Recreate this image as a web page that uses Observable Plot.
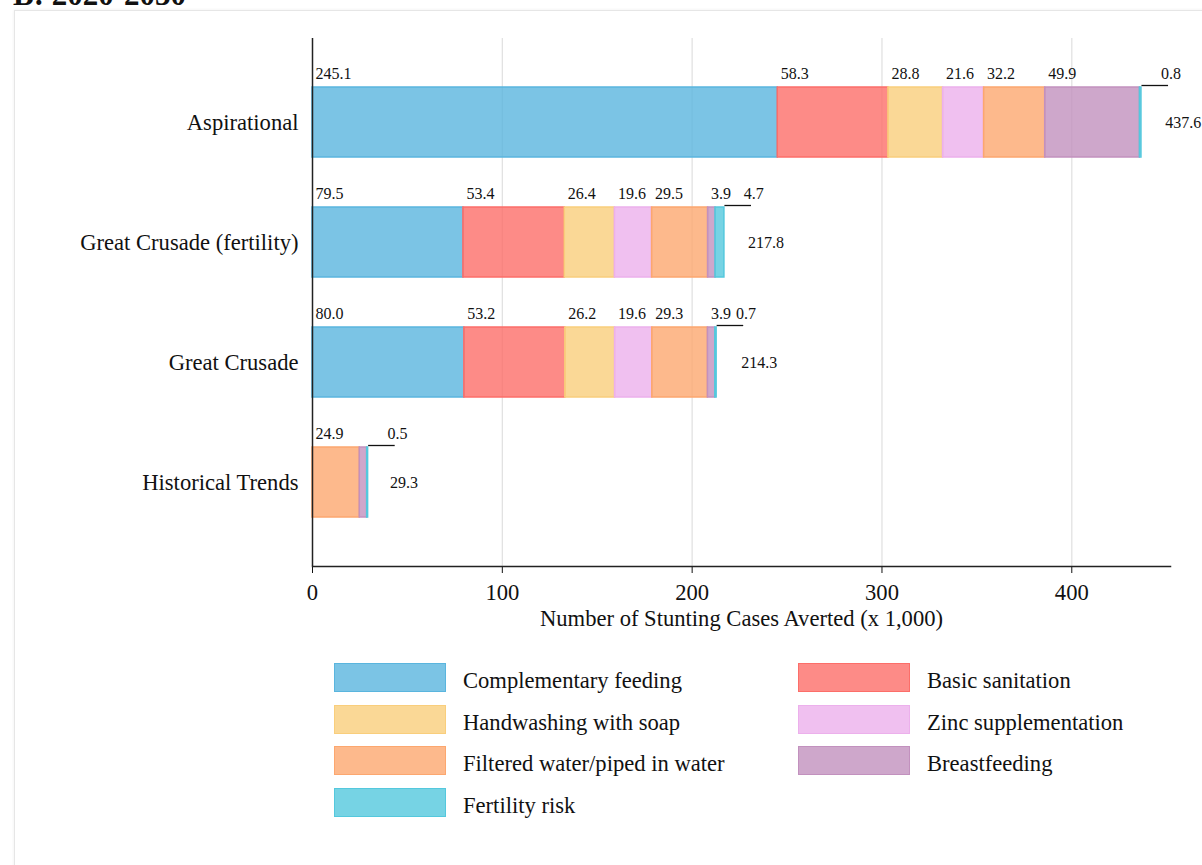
<!DOCTYPE html>
<html>
<head>
<meta charset="utf-8">
<script src="https://cdn.jsdelivr.net/npm/d3@7"></script>
<script src="https://cdn.jsdelivr.net/npm/@observablehq/plot@0.6"></script>
<style>
  html, body { margin: 0; padding: 0; background: #fff; }
  body { width: 1202px; height: 865px; position: relative; overflow: hidden; font-family: "Liberation Serif", "Times New Roman", serif; color: #111; }
  #title { position: absolute; left: 13px; top: -21px; font-size: 31px; font-weight: bold; line-height: 1; white-space: nowrap; }
  #panel { position: absolute; left: 14px; top: 10px; width: 1200px; height: 870px; border: 1px solid #e6e6e6; box-shadow: 0 0 3px #eee; }
  #chart { position: absolute; left: 0; top: 0; }
  #legend { position: absolute; left: 334px; top: 663px; display: grid; grid-template-columns: 464px 300px; grid-auto-rows: 41.7px; }
  .item { display: flex; align-items: flex-start; }
  .sw { width: 110px; height: 27px; border: 1.5px solid; flex: none; }
  .lab { margin-left: 17px; font-size: 22.6px; line-height: 30px; padding-top: 3px; white-space: nowrap; }
</style>
</head>
<body>
<div id="panel"></div>
<div id="title">B: 2020-2030</div>
<div id="chart"></div>
<div id="legend"></div>
<script>
const scenarios = ["Aspirational", "Great Crusade (fertility)", "Great Crusade", "Historical Trends"];
const interventions = ["Complementary feeding", "Basic sanitation", "Handwashing with soap", "Zinc supplementation", "Filtered water/piped in water", "Breastfeeding", "Fertility risk"];
const complementaryFeeding = [245.1, 79.5, 80.0, 0];
const basicSanitation      = [58.3, 53.4, 53.2, 0];
const handwashing          = [28.8, 26.4, 26.2, 0];
const zincSupplementation  = [21.6, 19.6, 19.6, 0];
const filteredWater        = [32.2, 29.5, 29.3, 24.9];
const breastfeeding        = [49.9, 3.9, 3.9, 3.9];
const fertilityRisk        = [0.8, 4.7, 0.7, 0.5];
const totals               = [437.6, 217.8, 214.3, 29.3];
const xTicks = [0, 100, 200, 300, 400];
const colors = ["#5ab5de", "#fc6e69", "#f9ce7c", "#ecb0ec", "#fca76f", "#c291be", "#54c8dd"];
const unlabeled = [["Historical Trends", "Breastfeeding"]];
const xTitle = "Number of Stunting Cases Averted (x 1,000)";

const series = [complementaryFeeding, basicSanitation, handwashing, zincSupplementation, filteredWater, breastfeeding, fertilityRisk];
const table = [];
scenarios.forEach((s, i) => interventions.forEach((iv, j) => {
  const v = series[j][i];
  if (v > 0) table.push({scenario: s, intervention: iv, value: v});
}));
const fmt = d3.format(".1f");
const isHidden = d => d.intervention === "Fertility risk" || unlabeled.some(([s, iv]) => s === d.scenario && iv === d.intervention);
const fertRows = scenarios.map((s, i) => ({
  scenario: s,
  value: fertilityRisk[i],
  end: d3.sum(series, arr => arr[i])
}));
const totalRows = scenarios.map((s, i) => ({scenario: s, total: totals[i]}));

const chart = Plot.plot({
  width: 1202,
  height: 640,
  marginLeft: 312,
  marginRight: 32,
  marginTop: 38,
  marginBottom: 74,
  style: {fontFamily: "Liberation Serif, Times New Roman, serif", fontSize: "22.6px", color: "#111", background: "transparent"},
  x: {domain: [0, 452]},
  y: {domain: scenarios, paddingInner: 0.413, paddingOuter: 0.39},
  color: {domain: interventions, range: colors},
  marks: [
    Plot.ruleX(xTicks.filter(t => t > 0), {stroke: "#e2e2e2", strokeWidth: 1.3}),
    Plot.barX(table, {x: "value", y: "scenario", fill: "intervention", stroke: "intervention", fillOpacity: 0.8, strokeWidth: 1.5, order: interventions}),
    Plot.axisX({ticks: xTicks, tickSize: 7, tickPadding: 10, label: null, tickFormat: d => d}),
    Plot.axisY({tickSize: 0, tickPadding: 14, label: null}),
    Plot.ruleX([0], {stroke: "#222", strokeWidth: 1.5}),
    Plot.frame({anchor: "bottom", stroke: "#222", strokeWidth: 1.5}),
    Plot.text(table, Plot.stackX1({
      x: "value", y: "scenario", z: "intervention", order: interventions,
      text: d => isHidden(d) ? null : fmt(d.value),
      textAnchor: "start", dx: 3, dy: -48.5, fontSize: 16, fill: "#111"
    })),
    Plot.link(fertRows, {x1: "end", x2: d => d.end + 14, y1: "scenario", y2: "scenario", dy: -37, stroke: "#111", strokeWidth: 1.3}),
    Plot.text(fertRows, {x: d => d.end + 15.5, y: "scenario", text: d => fmt(d.value), dy: -48.5, fontSize: 16, fill: "#111"}),
    Plot.text(totalRows, {x: "total", y: "scenario", text: d => fmt(d.total), textAnchor: "start", dx: 22, fontSize: 16, fill: "#111"}),
    Plot.text([xTitle], {text: d => d, frameAnchor: "bottom", dy: 59, fontSize: 22.6, fill: "#111"})
  ]
});
document.getElementById("chart").appendChild(chart);

const legend = document.getElementById("legend");
interventions.forEach((iv, j) => {
  const item = document.createElement("div");
  item.className = "item";
  const sw = document.createElement("div");
  sw.className = "sw";
  const c = d3.color(colors[j]);
  sw.style.borderColor = colors[j];
  sw.style.background = `rgba(${c.r},${c.g},${c.b},0.8)`;
  const lab = document.createElement("div");
  lab.className = "lab";
  lab.textContent = iv;
  item.appendChild(sw);
  item.appendChild(lab);
  legend.appendChild(item);
});
</script>
</body>
</html>
